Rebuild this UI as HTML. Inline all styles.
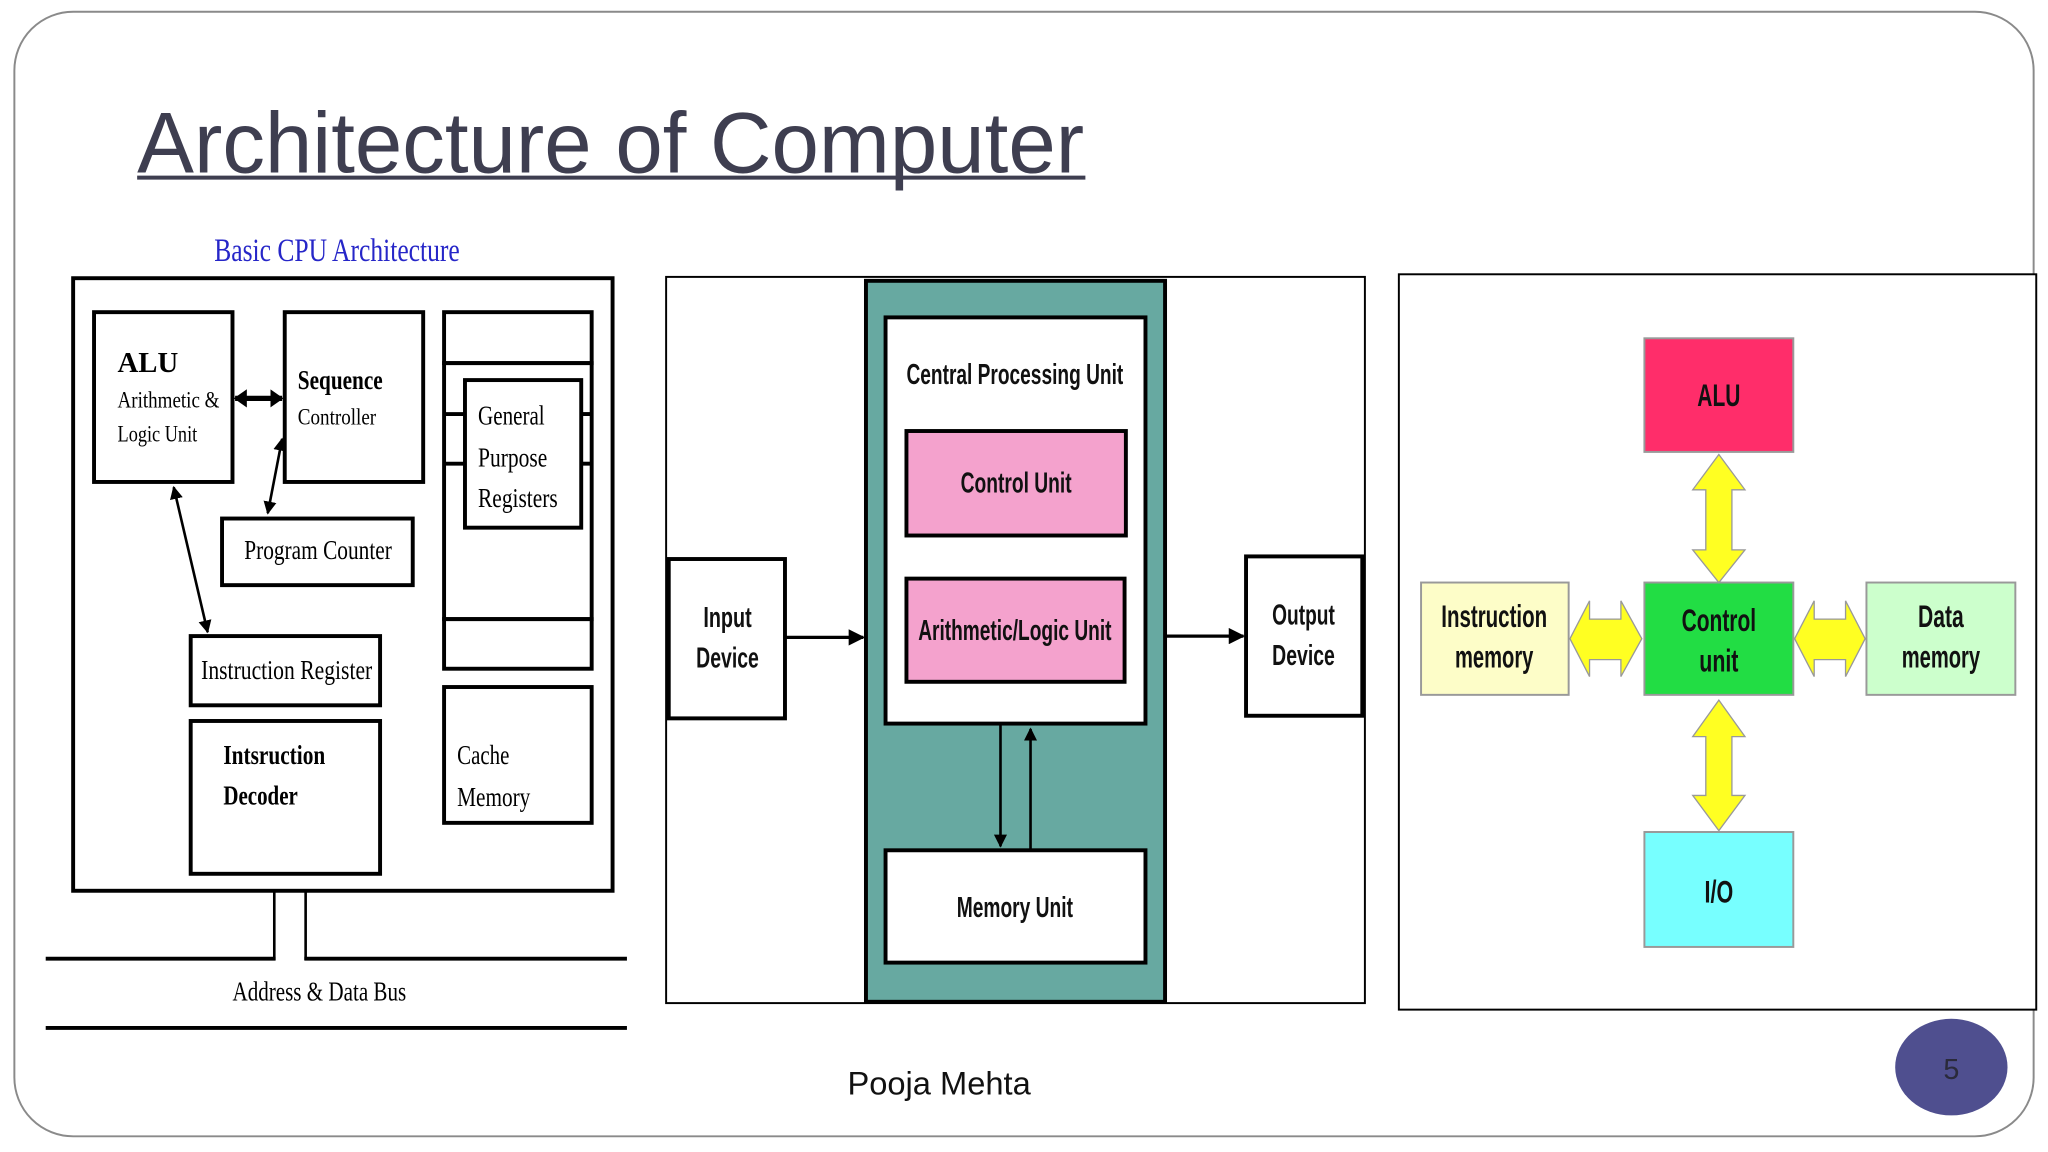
<!DOCTYPE html>
<html><head><meta charset="utf-8"><style>
html,body{margin:0;padding:0;background:#fff;width:2048px;height:1152px;overflow:hidden}
svg{display:block}
.s{font-family:"Liberation Serif",serif;fill:#000}
.n{font-family:"Liberation Sans Narrow","Liberation Sans",sans-serif;fill:#111}
</style></head><body>
<svg width="2048" height="1152" viewBox="0 0 1568 882" xmlns="http://www.w3.org/2000/svg">
<defs>
<marker id="ah" viewBox="0 0 10 10" refX="9" refY="5" markerWidth="5" markerHeight="5" orient="auto-start-reverse"><path d="M0,0 L10,5 L0,10 z" fill="#000"/></marker>
<marker id="ah2" viewBox="0 0 10 10" refX="9" refY="5" markerWidth="10" markerHeight="14" markerUnits="userSpaceOnUse" orient="auto-start-reverse" preserveAspectRatio="none"><path d="M0,0 L10,5 L0,10 z" fill="#000"/></marker>
</defs>
<rect x="11" y="9" width="1546" height="861" rx="45" fill="#fff" stroke="#8a8a8a" stroke-width="1.5"/>
<text x="105" y="132" font-family="Liberation Sans,sans-serif" font-size="66" fill="#3e3e50" textLength="725" lengthAdjust="spacingAndGlyphs">Architecture of Computer</text>
<line x1="105" y1="136" x2="831" y2="136" stroke="#3e3e50" stroke-width="3"/>
<text x="164" y="200" class="s" font-size="25" style="fill:#2626c8" textLength="188" lengthAdjust="spacingAndGlyphs">Basic CPU  Architecture</text>

<g fill="none" stroke="#000" stroke-width="3">
<rect x="56" y="213" width="413" height="469"/>
<rect x="72" y="239" width="106" height="130"/>
<rect x="218" y="239" width="106" height="130"/>
<rect x="340" y="239" width="113" height="39"/>
<rect x="340" y="278" width="113" height="196"/>
<rect x="340" y="474" width="113" height="38"/>
<rect x="356" y="291" width="89" height="113"/>
<line x1="340" y1="317" x2="356" y2="317"/><line x1="340" y1="355" x2="356" y2="355"/>
<line x1="445" y1="317" x2="453" y2="317"/><line x1="445" y1="355" x2="453" y2="355"/>
<rect x="170" y="397" width="146" height="51"/>
<rect x="146" y="487" width="145" height="53"/>
<rect x="146" y="552" width="145" height="117"/>
<rect x="340" y="526" width="113" height="104"/>
<line x1="210" y1="682" x2="210" y2="735" stroke-width="2"/>
<line x1="234" y1="682" x2="234" y2="735" stroke-width="2"/>
<line x1="35" y1="734" x2="211" y2="734"/>
<line x1="233" y1="734" x2="480" y2="734"/>
<line x1="35" y1="787" x2="480" y2="787"/>
</g>
<line x1="180" y1="305" x2="216" y2="305" stroke="#000" stroke-width="4" marker-start="url(#ah2)" marker-end="url(#ah2)"/>
<g stroke="#000" stroke-width="2" marker-start="url(#ah)" marker-end="url(#ah)">
<line x1="216" y1="336" x2="205" y2="393"/>
<line x1="133" y1="373" x2="159" y2="484"/>
</g>
<text x="90" y="285" class="s" font-size="22" font-weight="bold">ALU</text>
<text x="90" y="312" class="s" font-size="18" textLength="78" lengthAdjust="spacingAndGlyphs">Arithmetic &amp;</text>
<text x="90" y="338" class="s" font-size="18" textLength="61" lengthAdjust="spacingAndGlyphs">Logic Unit</text>
<text x="228" y="298" class="s" font-size="21" font-weight="bold" textLength="65" lengthAdjust="spacingAndGlyphs">Sequence</text>
<text x="228" y="325" class="s" font-size="18" textLength="60" lengthAdjust="spacingAndGlyphs">Controller</text>
<text x="366" y="325" class="s" font-size="21" textLength="51" lengthAdjust="spacingAndGlyphs">General</text>
<text x="366" y="357" class="s" font-size="21" textLength="53" lengthAdjust="spacingAndGlyphs">Purpose</text>
<text x="366" y="388" class="s" font-size="21" textLength="61" lengthAdjust="spacingAndGlyphs">Registers</text>
<text x="187" y="428" class="s" font-size="21" textLength="113" lengthAdjust="spacingAndGlyphs">Program Counter</text>
<text x="154" y="520" class="s" font-size="21" textLength="131" lengthAdjust="spacingAndGlyphs">Instruction Register</text>
<text x="171" y="585" class="s" font-size="21" font-weight="bold" textLength="78" lengthAdjust="spacingAndGlyphs">Intsruction</text>
<text x="171" y="616" class="s" font-size="21" font-weight="bold" textLength="57" lengthAdjust="spacingAndGlyphs">Decoder</text>
<text x="350" y="585" class="s" font-size="21" textLength="40" lengthAdjust="spacingAndGlyphs">Cache</text>
<text x="350" y="617" class="s" font-size="21" textLength="56" lengthAdjust="spacingAndGlyphs">Memory</text>
<text x="178" y="766" class="s" font-size="21" textLength="133" lengthAdjust="spacingAndGlyphs">Address &amp; Data Bus</text>

<rect x="510" y="212" width="535" height="556" fill="#fff" stroke="#000" stroke-width="1.5"/>
<rect x="663" y="215" width="229" height="552" fill="#67a9a1" stroke="#000" stroke-width="3"/>
<rect x="678" y="243" width="199" height="311" fill="#fff" stroke="#000" stroke-width="3"/>
<rect x="694" y="330" width="168" height="80" fill="#f4a2cd" stroke="#000" stroke-width="3"/>
<rect x="694" y="443" width="167" height="79" fill="#f4a2cd" stroke="#000" stroke-width="3"/>
<rect x="678" y="651" width="199" height="86" fill="#fff" stroke="#000" stroke-width="3"/>
<rect x="512" y="428" width="89" height="122" fill="#fff" stroke="#000" stroke-width="3"/>
<rect x="954" y="426" width="89" height="122" fill="#fff" stroke="#000" stroke-width="3"/>
<g stroke="#000" stroke-width="2.5" marker-end="url(#ah)">
<line x1="601" y1="488" x2="661" y2="488"/>
<line x1="892" y1="487" x2="952" y2="487"/>
<line x1="766" y1="555" x2="766" y2="648" stroke-width="2"/>
<line x1="789" y1="651" x2="789" y2="558" stroke-width="2"/>
</g>
<g class="n" font-size="22" font-weight="bold" text-anchor="middle">
<text x="777" y="294" textLength="166" lengthAdjust="spacingAndGlyphs">Central Processing Unit</text>
<text x="778" y="377" textLength="85" lengthAdjust="spacingAndGlyphs">Control Unit</text>
<text x="777" y="490" textLength="148" lengthAdjust="spacingAndGlyphs">Arithmetic/Logic Unit</text>
<text x="777" y="702" textLength="89" lengthAdjust="spacingAndGlyphs">Memory Unit</text>
<text x="557" y="480" textLength="37" lengthAdjust="spacingAndGlyphs">Input</text>
<text x="557" y="511" textLength="48" lengthAdjust="spacingAndGlyphs">Device</text>
<text x="998" y="478" textLength="48" lengthAdjust="spacingAndGlyphs">Output</text>
<text x="998" y="509" textLength="48" lengthAdjust="spacingAndGlyphs">Device</text>
</g>

<rect x="1071" y="210" width="488" height="563" fill="#fff" stroke="#000" stroke-width="1.5"/>
<g stroke="#999" stroke-width="1.5">
<rect x="1259" y="259" width="114" height="87" fill="#ff2d6a"/>
<rect x="1259" y="446" width="114" height="86" fill="#22dd44"/>
<rect x="1259" y="637" width="114" height="88" fill="#77ffff"/>
<rect x="1088" y="446" width="113" height="86" fill="#fdfdc8"/>
<rect x="1429" y="446" width="114" height="86" fill="#ccffcc"/>
</g>
<g fill="#ffff22" stroke="#999" stroke-width="1">
<polygon points="1316,348 1336,375 1326,375 1326,421 1336,421 1316,446 1296,421 1306,421 1306,375 1296,375"/>
<polygon points="1316,536 1336,564 1326,564 1326,609 1336,609 1316,636 1296,609 1306,609 1306,564 1296,564"/>
<polygon points="1202,489 1217,460 1217,474 1241,474 1241,460 1257,489 1241,518 1241,505 1217,505 1217,518"/>
<polygon points="1374,489 1389,460 1389,474 1413,474 1413,460 1428,489 1413,518 1413,505 1389,505 1389,518"/>
</g>
<g class="n" font-size="24" font-weight="bold" text-anchor="middle">
<text x="1316" y="311" textLength="33" lengthAdjust="spacingAndGlyphs">ALU</text>
<text x="1316" y="483" textLength="57" lengthAdjust="spacingAndGlyphs">Control</text>
<text x="1316" y="514" textLength="30" lengthAdjust="spacingAndGlyphs">unit</text>
<text x="1316" y="691" textLength="22" lengthAdjust="spacingAndGlyphs">I/O</text>
<text x="1144" y="480" textLength="81" lengthAdjust="spacingAndGlyphs">Instruction</text>
<text x="1144" y="511" textLength="60" lengthAdjust="spacingAndGlyphs">memory</text>
<text x="1486" y="480" textLength="35" lengthAdjust="spacingAndGlyphs">Data</text>
<text x="1486" y="511" textLength="60" lengthAdjust="spacingAndGlyphs">memory</text>
</g>

<text x="719" y="838" font-family="Liberation Sans,sans-serif" font-size="25" text-anchor="middle" fill="#111">Pooja Mehta</text>
<ellipse cx="1494" cy="817" rx="43" ry="37" fill="#4f4f8f"/>
<text x="1494" y="826" font-family="Liberation Sans,sans-serif" font-size="22" text-anchor="middle" fill="#2a2a3a">5</text>
</svg>
</body></html>
